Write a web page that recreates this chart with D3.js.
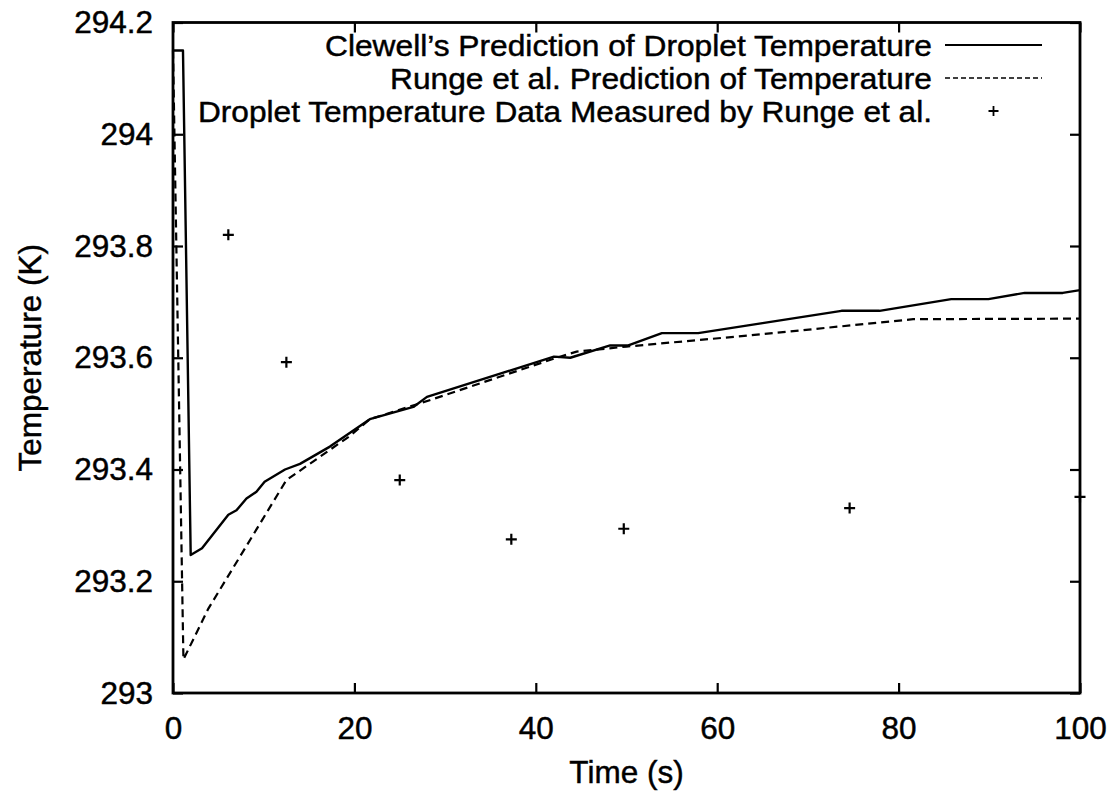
<!DOCTYPE html>
<html>
<head>
<meta charset="utf-8">
<script src="https://cdn.jsdelivr.net/npm/d3@7"></script>
<style>
  html, body { margin: 0; padding: 0; background: #fff; }
  svg text { font-family: "Liberation Sans", Arial, Helvetica, sans-serif; fill: #000; stroke: #000; stroke-width: 0.45px; }
</style>
</head>
<body>
<svg id="chart" width="1110" height="791"></svg>
<script>
// Clewell's model prediction of droplet temperature: time (s), temperature (K)
const clewellTime = [0, 1.1, 1.95, 3.2, 6.1, 7.0, 8.1, 9.2, 10.1, 12.35, 14.0, 17.3, 21.7, 26.5, 28.0,
  42.0, 43.8, 48.2, 50.2, 53.9, 57.9, 65.0, 73.7, 77.9, 85.8, 89.9, 93.9, 98.1, 100];
const clewellTemp = [294.15, 294.15, 293.247, 293.259, 293.319, 293.327, 293.348, 293.36, 293.378, 293.40,
  293.41, 293.441, 293.49, 293.512, 293.53, 293.602, 293.60, 293.622, 293.622, 293.644, 293.644, 293.662,
  293.684, 293.684, 293.705, 293.705, 293.716, 293.716, 293.721];

// Runge et al. model prediction
const rungeTime = [0, 1.15, 3.9, 12.5, 19.5, 21.7, 28.3, 42.1, 44.5, 50.0, 63.6, 81.6, 100];
const rungeTemp = [294.15, 293.06, 293.151, 293.381, 293.46, 293.49, 293.524, 293.599, 293.611, 293.62,
  293.64, 293.669, 293.67];

// Droplet temperatures measured by Runge et al.
const measuredTime = [6.1, 12.5, 25.0, 37.3, 49.7, 74.6, 100];
const measuredTemp = [293.82, 293.592, 293.381, 293.275, 293.294, 293.331, 293.351];

const xTicks = [0, 20, 40, 60, 80, 100];
const yTicks = [293, 293.2, 293.4, 293.6, 293.8, 294, 294.2];

const legendLabels = [
  "Clewell\u2019s Prediction of Droplet Temperature",
  "Runge et al. Prediction of Temperature",
  "Droplet Temperature Data Measured by Runge et al."
];

const svg = d3.select("#chart");
const plot = { left: 173, right: 1080, top: 22.5, bottom: 693 };

const x = d3.scaleLinear().domain([0, 100]).range([plot.left, plot.right]);
const y = d3.scaleLinear().domain([293, 294.2]).range([plot.bottom, plot.top]);

const fmt = d => String(+d.toFixed(1));
const fontSize = 31.5;

// axes with inward ticks on all four sides
const axisStyle = g => {
  g.select(".domain").remove();
  g.selectAll(".tick line").attr("stroke", "#000").attr("stroke-width", 2.2);
  g.selectAll("text").attr("font-size", fontSize).attr("font-family", null).attr("fill", "#000");
};

svg.append("g")
  .attr("transform", `translate(0,${plot.bottom})`)
  .call(d3.axisBottom(x).tickValues(xTicks).tickFormat(fmt).tickSize(-10).tickPadding(24))
  .call(axisStyle);
svg.append("g")
  .attr("transform", `translate(0,${plot.top})`)
  .call(d3.axisTop(x).tickValues(xTicks).tickFormat("").tickSize(-10))
  .call(axisStyle);
svg.append("g")
  .attr("transform", `translate(${plot.left},0)`)
  .call(d3.axisLeft(y).tickValues(yTicks).tickFormat(fmt).tickSize(-10).tickPadding(20))
  .call(axisStyle);
svg.append("g")
  .attr("transform", `translate(${plot.right},0)`)
  .call(d3.axisRight(y).tickValues(yTicks).tickFormat("").tickSize(-10))
  .call(axisStyle);

// plot frame
svg.append("rect")
  .attr("x", plot.left).attr("y", plot.top)
  .attr("width", plot.right - plot.left).attr("height", plot.bottom - plot.top)
  .attr("fill", "none").attr("stroke", "#000").attr("stroke-width", 2.8);

// axis titles
svg.append("text")
  .attr("x", (plot.left + plot.right) / 2).attr("y", 783)
  .attr("text-anchor", "middle").attr("font-size", fontSize)
  .text("Time (s)");
svg.append("text")
  .attr("transform", `translate(41,${(plot.top + plot.bottom) / 2}) rotate(-90)`)
  .attr("text-anchor", "middle").attr("font-size", fontSize)
  .text("Temperature (K)");

// curves
const line = d3.line().x(d => x(d[0])).y(d => y(d[1]));
const clewell = d3.zip(clewellTime, clewellTemp);
const runge = d3.zip(rungeTime, rungeTemp);
const measured = d3.zip(measuredTime, measuredTemp);

svg.append("path").datum(clewell)
  .attr("d", line).attr("fill", "none").attr("stroke", "#000")
  .attr("stroke-width", 2.4).attr("stroke-linejoin", "round");
svg.append("path").datum(runge)
  .attr("d", line).attr("fill", "none").attr("stroke", "#000")
  .attr("stroke-width", 2.2).attr("stroke-dasharray", "8,5");

// plus markers for measured data
const plus = (g, cx, cy, r, w) => g.append("path")
  .attr("d", `M${cx - r},${cy}H${cx + r}M${cx},${cy - r}V${cy + r}`)
  .attr("stroke", "#000").attr("stroke-width", w).attr("fill", "none");
const markers = svg.append("g");
measured.forEach(d => plus(markers, x(d[0]), y(d[1]), 5.5, 2.2));

// key: right-aligned labels, each stretched to a fixed run width
const key = svg.append("g");
const keyTextRight = 932, keySampleX0 = 945, keySampleX1 = 1042;
const keyFont = 29.5, keyStep = 33;
const keyWidths = [607, 542, 734];
legendLabels.forEach((label, i) => {
  const base = 56 + keyStep * i;
  key.append("text")
    .attr("x", keyTextRight).attr("y", base)
    .attr("text-anchor", "end").attr("font-size", keyFont)
    .attr("textLength", keyWidths[i]).attr("lengthAdjust", "spacingAndGlyphs")
    .text(label);
  const cy = base - 11;
  if (i === 0) {
    key.append("line").attr("x1", keySampleX0).attr("x2", keySampleX1).attr("y1", cy).attr("y2", cy)
      .attr("stroke", "#000").attr("stroke-width", 1.8);
  } else if (i === 1) {
    key.append("line").attr("x1", keySampleX0).attr("x2", keySampleX1).attr("y1", cy).attr("y2", cy)
      .attr("stroke", "#000").attr("stroke-width", 1.5).attr("stroke-dasharray", "5,3");
  } else {
    plus(key, (keySampleX0 + keySampleX1) / 2, cy, 5, 1.8);
  }
});
</script>
</body>
</html>
